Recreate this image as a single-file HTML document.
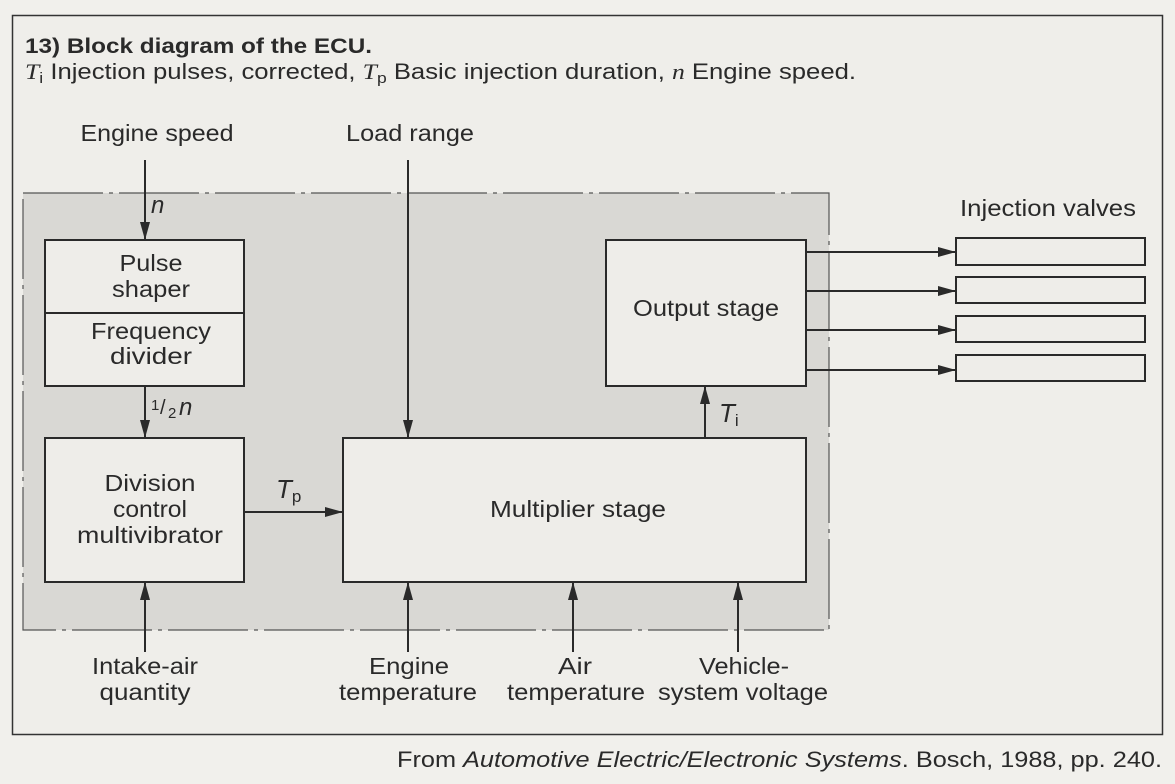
<!DOCTYPE html>
<html><head><meta charset="utf-8"><style>
html,body{margin:0;padding:0;background:#f1f0ec;}
svg{display:block}
text{font-family:"Liberation Sans",sans-serif;fill:#2a2a2a}
</style></head><body>
<svg width="1175" height="784" viewBox="0 0 1175 784" xmlns="http://www.w3.org/2000/svg">
<defs>
<marker id="b" markerWidth="18" markerHeight="10" refX="18" refY="5" orient="auto" markerUnits="userSpaceOnUse"><path d="M0,0 L18,5 L0,10 Z" fill="#2a2a2a"/></marker></defs>
<rect x="0" y="0" width="1175" height="784" fill="#f1f0ec"/>
<rect x="12.5" y="15.5" width="1150" height="719" fill="#efeeea" stroke="#333" stroke-width="1.5"/>
<text x="25" y="53" font-size="21" font-weight="bold" textLength="347" lengthAdjust="spacingAndGlyphs">13) Block diagram of the ECU.</text>
<text x="25" y="79" font-size="22" textLength="831" lengthAdjust="spacingAndGlyphs"><tspan font-family="Liberation Serif" font-style="italic">T</tspan><tspan font-size="15" dy="4">i</tspan><tspan dy="-4"> Injection pulses, corrected,  </tspan><tspan font-family="Liberation Serif" font-style="italic">T</tspan><tspan font-size="15" dy="4">p</tspan><tspan dy="-4"> Basic injection duration,  </tspan><tspan font-family="Liberation Serif" font-style="italic">n</tspan><tspan> Engine speed.</tspan></text>
<rect x="23" y="193" width="806" height="437" fill="#d9d8d4" stroke="#555" stroke-width="1.2" stroke-dasharray="80,6,4,6"/>
<g stroke="#2a2a2a" stroke-width="2" fill="#eeede9">
<rect x="45" y="240" width="199" height="146"/>
<line x1="45" y1="313" x2="244" y2="313"/>
<rect x="45" y="438" width="199" height="144"/>
<rect x="343" y="438" width="463" height="144"/>
<rect x="606" y="240" width="200" height="146"/>
<rect x="956" y="238" width="189" height="27"/>
<rect x="956" y="277" width="189" height="26"/>
<rect x="956" y="316" width="189" height="26"/>
<rect x="956" y="355" width="189" height="26"/>
</g>
<g stroke="#2a2a2a" stroke-width="2" fill="none">
<line x1="145" y1="160" x2="145" y2="240" marker-end="url(#b)"/>
<line x1="408" y1="160" x2="408" y2="438" marker-end="url(#b)"/>
<line x1="145" y1="386" x2="145" y2="438" marker-end="url(#b)"/>
<line x1="244" y1="512" x2="343" y2="512" marker-end="url(#b)"/>
<line x1="705" y1="438" x2="705" y2="386" marker-end="url(#b)"/>
<line x1="806" y1="252" x2="956" y2="252" marker-end="url(#b)"/>
<line x1="806" y1="291" x2="956" y2="291" marker-end="url(#b)"/>
<line x1="806" y1="330" x2="956" y2="330" marker-end="url(#b)"/>
<line x1="806" y1="370" x2="956" y2="370" marker-end="url(#b)"/>
<line x1="145" y1="652" x2="145" y2="582" marker-end="url(#b)"/>
<line x1="408" y1="652" x2="408" y2="582" marker-end="url(#b)"/>
<line x1="573" y1="652" x2="573" y2="582" marker-end="url(#b)"/>
<line x1="738" y1="652" x2="738" y2="582" marker-end="url(#b)"/>
</g>
<g font-size="23" text-anchor="middle" lengthAdjust="spacingAndGlyphs">
<text x="157" y="141" textLength="153" lengthAdjust="spacingAndGlyphs">Engine speed</text>
<text x="410" y="141" textLength="128" lengthAdjust="spacingAndGlyphs">Load range</text>
<text x="1048" y="216" textLength="176" lengthAdjust="spacingAndGlyphs">Injection valves</text>
<text x="151" y="271" textLength="63" lengthAdjust="spacingAndGlyphs">Pulse</text>
<text x="151" y="297" textLength="78" lengthAdjust="spacingAndGlyphs">shaper</text>
<text x="151" y="339" textLength="120" lengthAdjust="spacingAndGlyphs">Frequency</text>
<text x="151" y="364" textLength="82" lengthAdjust="spacingAndGlyphs">divider</text>
<text x="150" y="491" textLength="91" lengthAdjust="spacingAndGlyphs">Division</text>
<text x="150" y="517" textLength="74" lengthAdjust="spacingAndGlyphs">control</text>
<text x="150" y="543" textLength="146" lengthAdjust="spacingAndGlyphs">multivibrator</text>
<text x="578" y="517" textLength="176" lengthAdjust="spacingAndGlyphs">Multiplier stage</text>
<text x="706" y="316" textLength="146" lengthAdjust="spacingAndGlyphs">Output stage</text>
<text x="145" y="674" textLength="106" lengthAdjust="spacingAndGlyphs">Intake-air</text>
<text x="145" y="700" textLength="91" lengthAdjust="spacingAndGlyphs">quantity</text>
<text x="409" y="674" textLength="80" lengthAdjust="spacingAndGlyphs">Engine</text>
<text x="408" y="700" textLength="138" lengthAdjust="spacingAndGlyphs">temperature</text>
<text x="575" y="674" textLength="34" lengthAdjust="spacingAndGlyphs">Air</text>
<text x="576" y="700" textLength="138" lengthAdjust="spacingAndGlyphs">temperature</text>
<text x="744" y="674" textLength="90" lengthAdjust="spacingAndGlyphs">Vehicle-</text>
<text x="743" y="700" textLength="170" lengthAdjust="spacingAndGlyphs">system voltage</text>
</g>
<text x="151" y="213" font-size="24" font-family="Liberation Serif" font-style="italic">n</text>
<text x="151" y="410" font-size="15">1</text><text x="160" y="414" font-size="20">/</text><text x="168" y="418" font-size="15">2</text><text x="179" y="415" font-size="24" font-family="Liberation Serif" font-style="italic">n</text>
<text x="276" y="498" font-size="26" font-family="Liberation Serif" font-style="italic">T<tspan font-size="17" font-style="normal" font-family="Liberation Sans" dy="4">p</tspan></text>
<text x="719" y="422" font-size="26" font-family="Liberation Serif" font-style="italic">T<tspan font-size="17" font-style="normal" font-family="Liberation Sans" dy="4">i</tspan></text>
<text x="1162" y="767" font-size="22" text-anchor="end" textLength="765" lengthAdjust="spacingAndGlyphs">From <tspan font-style="italic">Automotive Electric/Electronic Systems</tspan>. Bosch, 1988, pp. 240.</text>
</svg>
</body></html>
